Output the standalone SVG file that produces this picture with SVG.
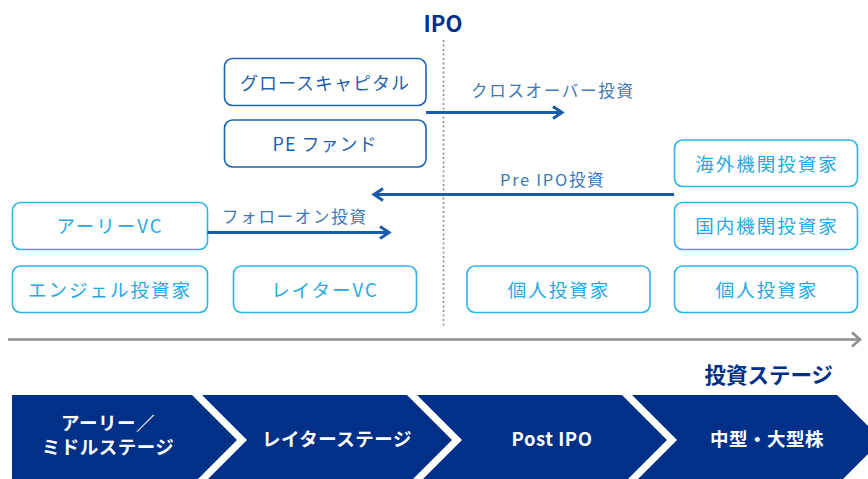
<svg xmlns="http://www.w3.org/2000/svg" width="868" height="479" viewBox="0 0 868 479">
<style>
.t{font-family:"Noto Sans CJK JP","Noto Sans",sans-serif}
.bd rect{fill:#fff;stroke:#1d63ad;stroke-width:1.6}
.bd text{fill:#1d63ad;font-size:18px;letter-spacing:1px;text-anchor:middle}
.bl rect{fill:#fff;stroke:#2db5e8;stroke-width:1.6}
.bl text{fill:#25a9e0;font-size:18.5px;letter-spacing:2px;text-anchor:middle}
.lab{fill:#3e78b5;font-size:16.5px;letter-spacing:1.7px}
.arr{stroke:#1a5ca8;stroke-width:3;fill:none}
.ah{stroke:#1a5ca8;stroke-width:3;fill:none;stroke-linecap:butt;stroke-linejoin:miter}
.chev{fill:#003087}
.ct{fill:#fff;font-size:18.5px;font-weight:bold;text-anchor:middle;letter-spacing:0.5px}
.navy{fill:#003087;font-weight:bold}
</style>
<g id="ipo-line">
<line x1="443.5" y1="40" x2="443.5" y2="326" stroke="#8a8a8a" stroke-width="1.6" stroke-dasharray="2,2.5"/>
<text class="t navy" x="443" y="32" font-size="22" text-anchor="middle">IPO</text>
</g>
<g id="growth" class="bd t"><rect x="224.5" y="58.5" width="201.5" height="47" rx="8"/><text x="325" y="89.5">グロースキャピタル</text></g>
<g id="pe" class="bd t"><rect x="224.5" y="120" width="201.5" height="47" rx="8"/><text x="325" y="150.5">PE ファンド</text></g>
<g id="early-vc" class="bl t"><rect x="12.5" y="202.5" width="195" height="47" rx="8"/><text x="110" y="233">アーリーVC</text></g>
<g id="angel" class="bl t"><rect x="12.5" y="266" width="195" height="46.5" rx="8"/><text x="110" y="296.5">エンジェル投資家</text></g>
<g id="late-vc" class="bl t"><rect x="233.5" y="266" width="183" height="46.5" rx="8"/><text x="325" y="296.5">レイターVC</text></g>
<g id="retail1" class="bl t"><rect x="467" y="266" width="183" height="46.5" rx="8"/><text x="559" y="296.5">個人投資家</text></g>
<g id="retail2" class="bl t"><rect x="674.5" y="266" width="183" height="46.5" rx="8"/><text x="767" y="296.5">個人投資家</text></g>
<g id="domestic" class="bl t"><rect x="674.5" y="202.5" width="183" height="47" rx="8"/><text x="767" y="233">国内機関投資家</text></g>
<g id="foreign" class="bl t"><rect x="674.5" y="140" width="183" height="46.5" rx="8"/><text x="767" y="170.5">海外機関投資家</text></g>
<g id="connectors">
<line class="arr" x1="426" y1="112.5" x2="561" y2="112.5"/>
<polyline class="ah" points="553,106.5 562,112.5 553,118.5"/>
<line class="arr" x1="674" y1="194.5" x2="375" y2="194.5"/>
<polyline class="ah" points="383,188.5 374,194.5 383,200.5"/>
<line class="arr" x1="207.5" y1="232.5" x2="388" y2="232.5"/>
<polyline class="ah" points="380,226.5 389,232.5 380,238.5"/>
</g>
<g id="labels">
<text class="t lab" x="471" y="97">クロスオーバー投資</text>
<text class="t lab" x="500" y="186">Pre IPO投資</text>
<text class="t lab" x="222" y="223">フォローオン投資</text>
</g>
<g id="axis">
<line x1="8" y1="339.5" x2="859" y2="339.5" stroke="#8c8c8c" stroke-width="2.6"/>
<polyline points="852,332.5 860,339.5 852,346.5" stroke="#8c8c8c" stroke-width="2.6" fill="none"/>
<text class="t navy" x="833" y="383" font-size="21.5" text-anchor="end">投資ステージ</text>
</g>
<g id="stage1"><polygon class="chev" points="12,395 192,395 237,440 192,485 12,485"/><text class="t ct" x="108" y="430">アーリー／</text><text class="t ct" x="108" y="454">ミドルステージ</text></g>
<g id="stage2"><polygon class="chev" points="202,395 407,395 452,440 407,485 202,485 247,440"/><text class="t ct" x="337" y="446">レイターステージ</text></g>
<g id="stage3"><polygon class="chev" points="417,395 622,395 667,440 622,485 417,485 462,440"/><text class="t ct" x="552" y="446" font-size="19" letter-spacing="1.5">Post IPO</text></g>
<g id="stage4"><polygon class="chev" points="632,395 837,395 882,440 837,485 632,485 677,440"/><text class="t ct" x="767" y="446">中型・大型株</text></g>
</svg>
